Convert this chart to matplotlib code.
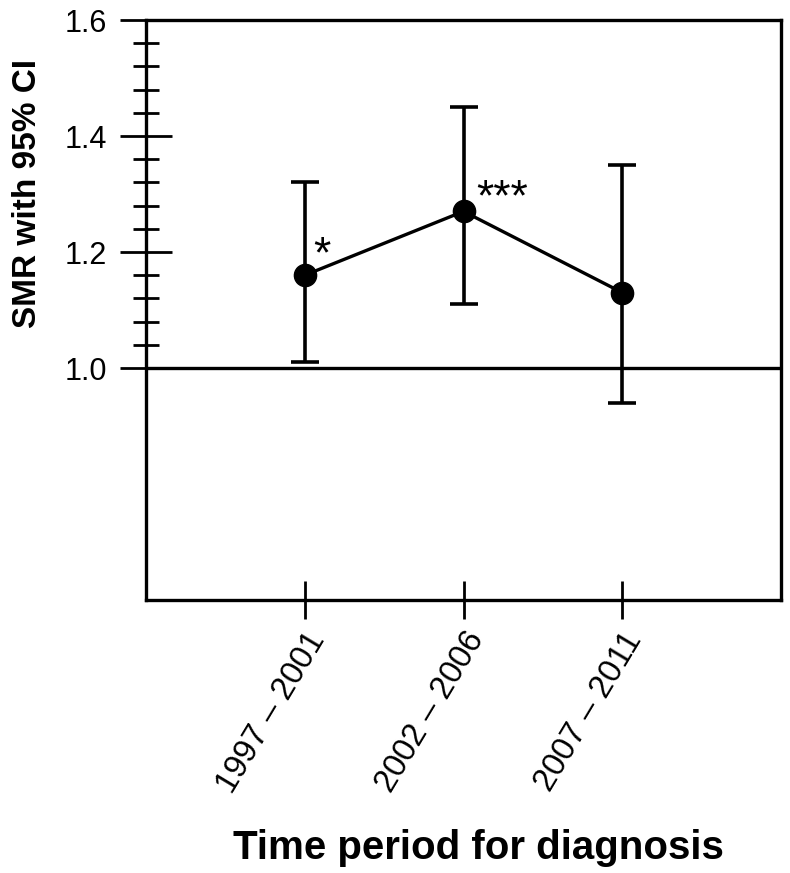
import numpy as np
import matplotlib
matplotlib.use("Agg")
import matplotlib.pyplot as plt
from matplotlib.ticker import FixedLocator

periods = ["1997 \u2013 2001", "2002 \u2013 2006", "2007 \u2013 2011"]
smr = [1.16, 1.27, 1.13]
ci_low = [1.01, 1.11, 0.94]
ci_high = [1.32, 1.45, 1.35]
stars = ["*", "***", ""]

plt.rcParams['font.family'] = ['Liberation Sans', 'DejaVu Sans']

fig = plt.figure(figsize=(7.9, 8.73), dpi=100)
ax = fig.add_axes([146 / 790, 1 - 600 / 873, 635 / 790, 580 / 873])

x = np.arange(1, len(periods) + 1)
yerr = [np.array(smr) - np.array(ci_low), np.array(ci_high) - np.array(smr)]
ax.errorbar(x, smr, yerr=yerr, fmt='o-', color='black', ms=16, lw=2.4,
            elinewidth=2.6, capsize=10, capthick=2.6)

# significance stars next to the points
star_offsets = [(6, 6), (9, 1), (0, 0)]
for xi, yi, s, off in zip(x, smr, stars, star_offsets):
    if s:
        ax.annotate(s, (xi, yi), xytext=off, textcoords='offset points',
                    fontsize=32, ha='left', va='baseline')

ax.axhline(1.0, color='black', lw=2.4)

ax.set_xlim(0, 4)
ax.set_ylim(0.6, 1.6)
ax.set_xticks(x)
ax.set_xticklabels(periods, rotation=59, ha='right', rotation_mode='anchor',
                   fontsize=23.5)
ax.set_yticks([1.0, 1.2, 1.4, 1.6])
ax.set_yticklabels(["1.0", "1.2", "1.4", "1.6"], fontsize=22)
ax.yaxis.set_minor_locator(FixedLocator([1.04, 1.08, 1.12, 1.16, 1.24, 1.28,
                                         1.32, 1.36, 1.44, 1.48, 1.52, 1.56]))

ax.tick_params(axis='y', which='major', direction='inout', length=38, width=2, pad=9)
ax.tick_params(axis='y', which='minor', direction='inout', length=19, width=2)
ax.tick_params(axis='x', which='major', direction='inout', length=28, width=2, pad=5)

for sp in ax.spines.values():
    sp.set_linewidth(2.4)

ax.set_ylabel("SMR with 95% CI", fontsize=24, fontweight='bold', va='center')
ax.yaxis.set_label_coords(-0.186, 0.7)
ax.set_xlabel("Time period for diagnosis", fontsize=29, fontweight='bold', va='center')
ax.xaxis.set_label_coords(0.524, -0.427)

fig.savefig("out.png", dpi=100)
